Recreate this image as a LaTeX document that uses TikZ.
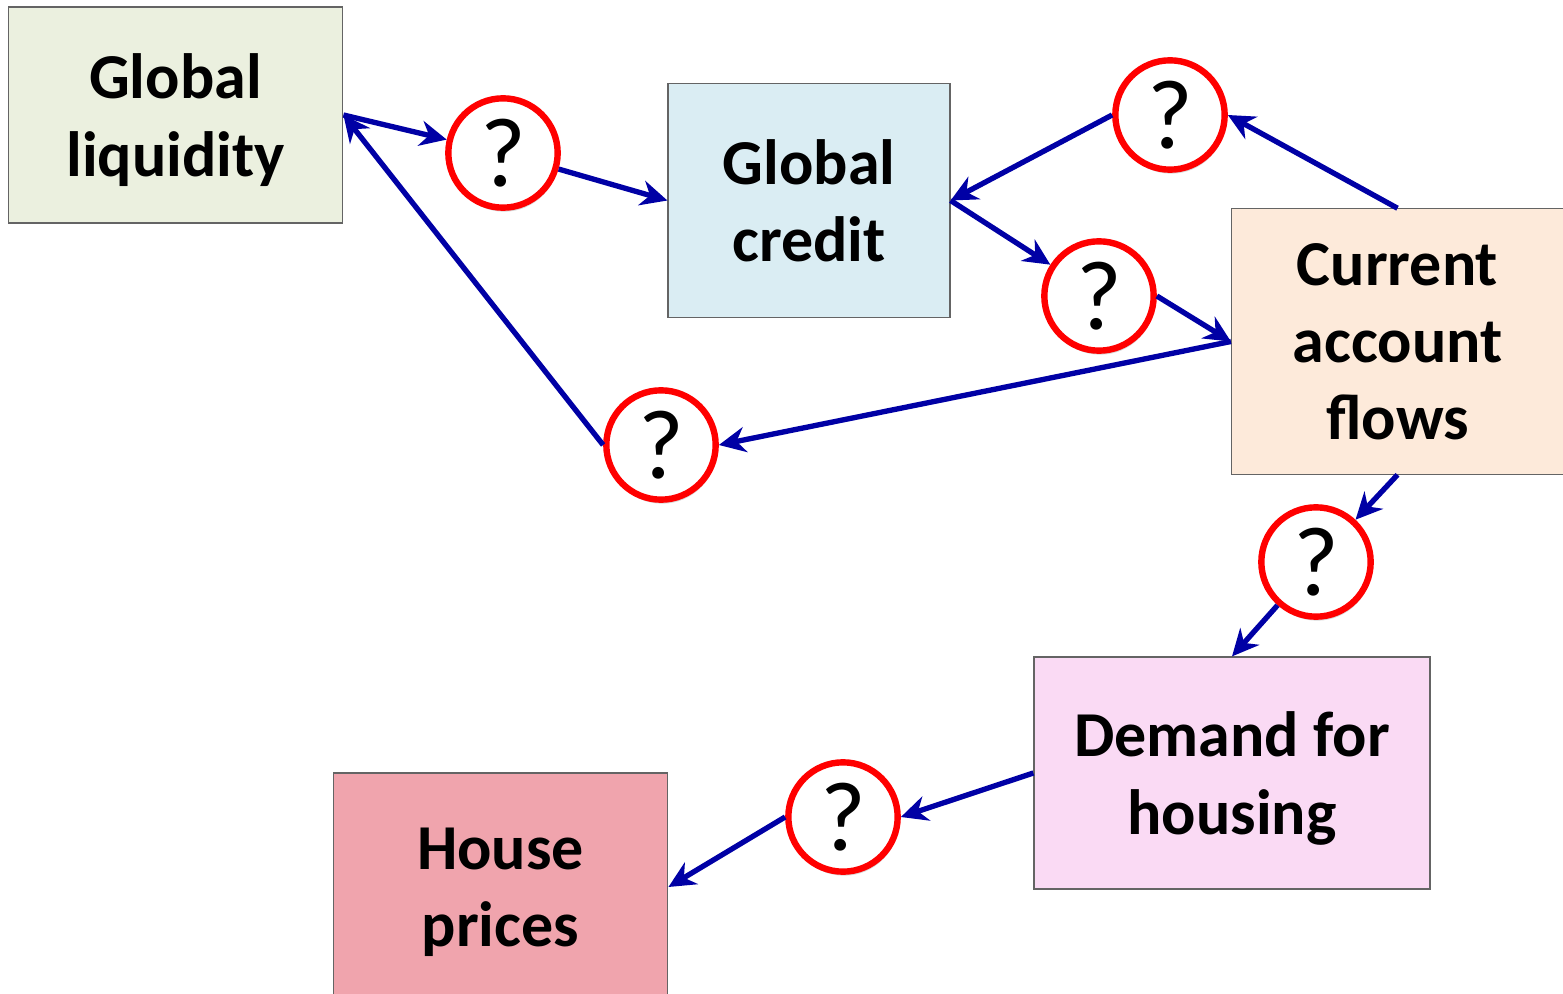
\documentclass[tikz,border=0pt]{standalone}
\usepackage{fontspec}
\setmainfont{Carlito}
\usepackage{tikz}
\usetikzlibrary{arrows.meta}
\usetikzlibrary{shadows}
\tikzset{>={Stealth[length=20pt,width=19pt,inset=6.5pt]}}
\definecolor{linkblue}{RGB}{0, 0, 165}
\definecolor{qred}{RGB}{255, 0, 0}
\definecolor{boxline}{RGB}{100, 100, 100}
\definecolor{liqfill}{RGB}{235, 240, 223}
\definecolor{credfill}{RGB}{218, 237, 243}
\definecolor{cafill}{RGB}{253, 234, 218}
\definecolor{demfill}{RGB}{250, 218, 244}
\definecolor{housefill}{RGB}{240, 164, 173}
\tikzset{
	box/.style={draw=boxline, line width=0.9pt, align=center, inner sep=0pt, text depth=0pt,
		font=\fontsize{48}{58}\selectfont\bfseries},
	qcirc/.style={circle, draw=qred, line width=4.8pt, fill=white, minimum size=82pt,
		inner sep=0pt, font=\fontsize{74}{74}\selectfont,
		drop shadow={shadow xshift=0.8pt, shadow yshift=-3pt, fill=black!35, opacity=0.45}},
	link/.style={->, draw=linkblue, line width=4pt}
}

\begin{document}
\begin{tikzpicture}[x=0.75pt, y=-0.75pt]
	\useasboundingbox (0,0) rectangle (1563,994);

	% boxes
	\node[box, fill=liqfill, minimum width=251pt, minimum height=162pt] (liq) at (175.5,115) {Global\\liquidity};
	\node[box, fill=credfill, minimum width=211.5pt, minimum height=176pt] (cred) at (809,200.5) {Global\\credit};
	\node[box, fill=cafill, minimum width=249pt, minimum height=199pt] (ca) at (1397.5,341.5) {Current\\account\\flows};
	\node[box, fill=demfill, minimum width=297pt, minimum height=174pt] (dem) at (1232,773) {Demand for\\housing};
	\node[box, fill=housefill, minimum width=251pt, minimum height=171pt] (house) at (500.5,887) {House\\prices};

	% question marks
	\node[qcirc] (q1) at (503,153) {?};
	\node[qcirc] (q2) at (1170,115) {?};
	\node[qcirc] (q3) at (1099,296) {?};
	\node[qcirc] (q4) at (661,445) {?};
	\node[qcirc] (q5) at (1316,562) {?};
	\node[qcirc] (q6) at (843,817) {?};

	% links
	\draw[link] (liq.east) -- (q1);
	\draw[link] (q1) -- (cred.west);
	\draw[link] (q2.west) -- (cred.east);
	\draw[link] (ca.north) -- (q2.east);
	\draw[link] (cred.east) -- (q3);
	\draw[link] (q3.east) -- (ca.west);
	\draw[link] (ca.west) -- (q4.east);
	\draw[link] (q4.west) -- (liq.east);
	\draw[link] (ca.south) -- (q5);
	\draw[link] (q5) -- (dem.north);
	\draw[link] (dem.west) -- (q6.east);
	\draw[link] (q6.west) -- (house.east);
\end{tikzpicture}
\end{document}
